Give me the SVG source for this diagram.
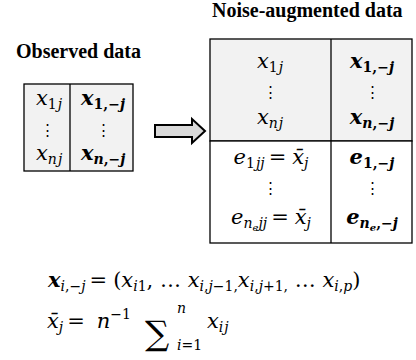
<svg xmlns="http://www.w3.org/2000/svg" width="416" height="360" viewBox="0 0 416 360">
<style>
.title{font-family:"Liberation Serif","Times New Roman",serif;font-weight:bold;font-size:20px;fill:#000}
.m{font-family:"DejaVu Serif",serif;font-style:italic;font-size:21px;fill:#000}
.b{font-weight:bold}
.s{font-size:14px}
.u{font-style:normal}
.box{stroke:#000;stroke-width:1.3}
</style>
<rect width="416" height="360" fill="#fff"/>
<g id="observed-title"><text class="title" x="16" y="58">Observed data</text></g>
<g id="observed">
<rect class="box" x="24" y="84" width="109" height="87" fill="#f2f2f2"/>
<line class="box" x1="70" y1="84" x2="70" y2="171"/>
<text class="m" x="36" y="105">x<tspan class="s u" dy="4">1</tspan><tspan class="s" dx="1">j</tspan></text>
<text class="m b" x="81" y="105">x<tspan class="s u" dy="4">1,−</tspan><tspan class="s">j</tspan></text>
<text class="m u" x="47" y="135" text-anchor="middle" style="font-size:15px">⋮</text>
<text class="m u" x="103" y="135" text-anchor="middle" style="font-size:15px">⋮</text>
<text class="m" x="36" y="160">x<tspan class="s" dy="4">n</tspan><tspan class="s" dx="1">j</tspan></text>
<text class="m b" x="81" y="160">x<tspan class="s" dy="4">n</tspan><tspan class="s u">,−</tspan><tspan class="s">j</tspan></text>
</g>
<g id="connectors">
<path d="M155,125 H192 V119 L205,131 L192,143 V137 H155 Z" fill="#d9d9d9" stroke="#000" stroke-width="2"/>
</g>
<g id="augmented-title"><text class="title" x="212" y="17">Noise-augmented data</text></g>
<g id="augmented">
<rect class="box" x="210" y="39" width="202" height="102" fill="#f2f2f2"/>
<rect class="box" x="210" y="141" width="202" height="102" fill="#fff"/>
<line class="box" x1="331" y1="39" x2="331" y2="243"/>
<text class="m" x="270" y="68" text-anchor="middle">x<tspan class="s u" dy="4">1</tspan><tspan class="s" dx="1">j</tspan></text>
<text class="m b" x="372" y="68" text-anchor="middle">x<tspan class="s u" dy="4">1,−</tspan><tspan class="s">j</tspan></text>
<text class="m u" x="270" y="97" text-anchor="middle" style="font-size:15px">⋮</text>
<text class="m u" x="372" y="97" text-anchor="middle" style="font-size:15px">⋮</text>
<text class="m" x="270" y="124" text-anchor="middle">x<tspan class="s" dy="4">n</tspan><tspan class="s" dx="1">j</tspan></text>
<text class="m b" x="372" y="124" text-anchor="middle">x<tspan class="s" dy="4">n</tspan><tspan class="s u">,−</tspan><tspan class="s">j</tspan></text>
<text class="m" x="271" y="164" text-anchor="middle">e<tspan class="s u" dy="4">1</tspan><tspan class="s" dx="1">jj</tspan><tspan class="u" dy="-4" dx="4">=</tspan><tspan dx="6">x̄</tspan><tspan class="s" dy="4">j</tspan></text>
<text class="m b" x="372" y="164" text-anchor="middle">e<tspan class="s u" dy="4">1,−</tspan><tspan class="s">j</tspan></text>
<text class="m u" x="270" y="193" text-anchor="middle" style="font-size:15px">⋮</text>
<text class="m u" x="372" y="193" text-anchor="middle" style="font-size:15px">⋮</text>
<text class="m" x="271" y="224" text-anchor="middle">e<tspan class="s" dy="4">n</tspan><tspan style="font-size:10px" dy="3">e</tspan><tspan class="s" dy="-3">jj</tspan><tspan class="u" dy="-4" dx="4">=</tspan><tspan dx="6">x̄</tspan><tspan class="s" dy="4">j</tspan></text>
<text class="m b" x="372" y="224" text-anchor="middle">e<tspan class="s" dy="4">n</tspan><tspan style="font-size:10px" dy="3">e</tspan><tspan class="s u" dy="-3">,−</tspan><tspan class="s">j</tspan></text>
</g>
<g id="formulas">
<text class="m" x="48" y="287"><tspan class="b">x</tspan><tspan class="s" dy="4">i</tspan><tspan class="s u">,−</tspan><tspan class="s">j</tspan><tspan class="u" dy="-4" dx="4">=</tspan><tspan class="u" dx="6">(</tspan>x<tspan class="s" dy="4">i</tspan><tspan class="s u">1</tspan><tspan class="u" dy="-4">, … </tspan>x<tspan class="s" dy="4">i</tspan><tspan class="s u">,</tspan><tspan class="s">j</tspan><tspan class="s u">−1,</tspan><tspan dy="-4">x</tspan><tspan class="s" dy="4">i</tspan><tspan class="s u">,</tspan><tspan class="s">j</tspan><tspan class="s u">+1,</tspan><tspan class="u" dy="-4"> … </tspan>x<tspan class="s" dy="4">i</tspan><tspan class="s u">,</tspan><tspan class="s">p</tspan><tspan class="u" dy="-4">)</tspan></text>
<text class="m" x="47" y="328">x̄<tspan class="s" dy="4">j</tspan><tspan class="u" dy="-4" dx="4">=</tspan><tspan dx="12">n</tspan><tspan class="s u" dy="-9">−1</tspan></text>
<text class="m u" x="145" y="345" style="font-size:34px">∑</text>
<text class="m s" x="177" y="313">n</text>
<text class="m s" x="177" y="350">i<tspan class="u">=1</tspan></text>
<text class="m" x="207" y="328">x<tspan class="s" dy="4">i</tspan><tspan class="s" dx="1">j</tspan></text>
</g>
</svg>
